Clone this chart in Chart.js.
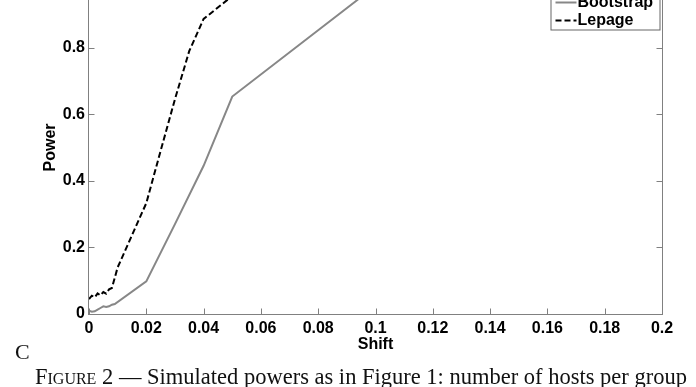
<!DOCTYPE html>
<html>
<head>
<meta charset="utf-8">
<script src="https://cdn.jsdelivr.net/npm/chart.js@4.4.1/dist/chart.umd.min.js"></script>
<style>
  html, body { margin: 0; padding: 0; background: #fff; overflow: hidden; }
  body { width: 696px; height: 387px; position: relative; }
  #wrap { position: absolute; left: 0; top: -40px; width: 696px; height: 427px; }
  .serif { position: absolute; font-family: "Liberation Serif", "DejaVu Serif", serif; color: #111; white-space: nowrap; line-height: 1; }
  #panel { left: 15px; top: 341px; font-size: 22px; }
  #caption { left: 35px; top: 366px; font-size: 22.5px; }
  .sc { font-variant: small-caps; }
</style>
</head>
<body>
<div id="wrap"><canvas id="power" width="696" height="427"></canvas></div>
<div id="panel" class="serif">C</div>
<div id="caption" class="serif"><span class="sc">Figure 2</span> — Simulated powers as in Figure 1: number of hosts per group</div>
<script>
// power curves against location shift
const shiftBoot = [0, 0.001, 0.002, 0.003, 0.004, 0.005, 0.006, 0.007, 0.008, 0.009, 0.02, 0.03, 0.04, 0.05, 0.1, 0.2];
const powerBoot = [0.01, 0.007, 0.008, 0.013, 0.018, 0.023, 0.021, 0.023, 0.028, 0.03, 0.098, 0.27, 0.445, 0.653, 0.985, 1];

const shiftLepage = [0, 0.001, 0.002, 0.003, 0.004, 0.005, 0.006, 0.007, 0.008, 0.01, 0.02, 0.025, 0.03, 0.035, 0.04, 0.05, 0.1, 0.2];
const powerLepage = [0.045, 0.055, 0.05, 0.062, 0.056, 0.066, 0.061, 0.074, 0.078, 0.14, 0.333, 0.49, 0.645, 0.79, 0.886, 0.955, 1, 1];

const seriesNames = ['Bootstrap', 'Lepage'];

const AXIS_GRAY = '#808080';
const FONT = { family: '"Liberation Sans", Arial, sans-serif', size: 16, weight: 'bold' };

function pts(xs, ys) {
  return xs.map((x, i) => ({ x: x, y: ys[i] }));
}

function fmt(v) {
  return String(+Number(v).toFixed(2));
}

// box round the axes with inward tick marks, plus the legend box
const frame = {
  id: 'frame',
  afterDatasetsDraw(chart) {
    const { ctx, chartArea: a, scales: { x, y } } = chart;
    const L = Math.round(a.left) - 0.5, R = Math.round(a.right) + 0.5;
    const T = Math.round(a.top) - 0.5, B = Math.round(a.bottom) + 0.5;
    ctx.save();
    ctx.strokeStyle = AXIS_GRAY;
    ctx.lineWidth = 1;
    ctx.strokeRect(L, T, R - L, B - T);
    ctx.beginPath();
    x.ticks.forEach(t => {
      const px = Math.round(x.getPixelForValue(t.value)) + 0.5;
      ctx.moveTo(px, B); ctx.lineTo(px, B - 6);
      ctx.moveTo(px, T); ctx.lineTo(px, T + 6);
    });
    y.ticks.forEach(t => {
      const py = Math.round(y.getPixelForValue(t.value)) + 0.5;
      ctx.moveTo(L, py); ctx.lineTo(L + 6, py);
      ctx.moveTo(R, py); ctx.lineTo(R - 6, py);
    });
    ctx.stroke();

    // legend
    const sets = chart.data.datasets;
    const boxR = R - 3, boxB = T + 49, boxW = 109, rowH = 18;
    const boxT = boxB - sets.length * rowH - 6;
    ctx.fillStyle = '#fff';
    ctx.fillRect(boxR - boxW, boxT, boxW, boxB - boxT);
    ctx.strokeStyle = '#666';
    ctx.strokeRect(boxR - boxW + 0.5, boxT + 0.5, boxW, boxB - boxT);
    ctx.font = `${FONT.weight} ${FONT.size}px ${FONT.family}`;
    ctx.textBaseline = 'middle';
    ctx.fillStyle = '#000';
    sets.forEach((ds, i) => {
      const cy = boxB - 10 - (sets.length - 1 - i) * rowH;
      const x0 = boxR - boxW + 5;
      ctx.save();
      ctx.strokeStyle = ds.borderColor;
      ctx.lineWidth = 2;
      ctx.setLineDash(ds.borderDash || []);
      ctx.beginPath();
      ctx.moveTo(x0, cy + 1); ctx.lineTo(x0 + 21, cy + 1);
      ctx.stroke();
      ctx.restore();
      ctx.fillText(ds.label, x0 + 22, cy + 1);
    });
    ctx.restore();
  }
};

new Chart(document.getElementById('power'), {
  type: 'line',
  data: {
    datasets: [
      {
        label: seriesNames[0],
        data: pts(shiftBoot, powerBoot),
        borderColor: '#878787',
        borderWidth: 2,
        pointRadius: 0,
        tension: 0
      },
      {
        label: seriesNames[1],
        data: pts(shiftLepage, powerLepage),
        borderColor: '#000',
        borderWidth: 2,
        borderDash: [6, 3],
        pointRadius: 0,
        tension: 0
      }
    ]
  },
  options: {
    responsive: false,
    animation: false,
    devicePixelRatio: 1,
    layout: { padding: { top: 21, right: 34, left: 0, bottom: 0 } },
    plugins: {
      legend: { display: false },
      tooltip: { enabled: false }
    },
    scales: {
      x: {
        type: 'linear',
        min: 0,
        max: 0.2,
        afterFit(s) { s.height = 73; },
        ticks: { stepSize: 0.02, callback: fmt, color: '#000', font: FONT, padding: 5, maxRotation: 0 },
        grid: { display: false, drawTicks: false },
        border: { display: false },
        title: { display: true, text: 'Shift', color: '#000', font: FONT, padding: { top: 0, bottom: 33 } }
      },
      y: {
        min: 0,
        max: 1,
        afterFit(s) { s.width = 89; },
        ticks: { stepSize: 0.2, callback: fmt, color: '#000', font: FONT, padding: 4 },
        grid: { display: false, drawTicks: false },
        border: { display: false },
        title: { display: true, text: 'Power', color: '#000', font: FONT, padding: { top: 41, bottom: 0 } }
      }
    }
  },
  plugins: [frame]
});
</script>
</body>
</html>
